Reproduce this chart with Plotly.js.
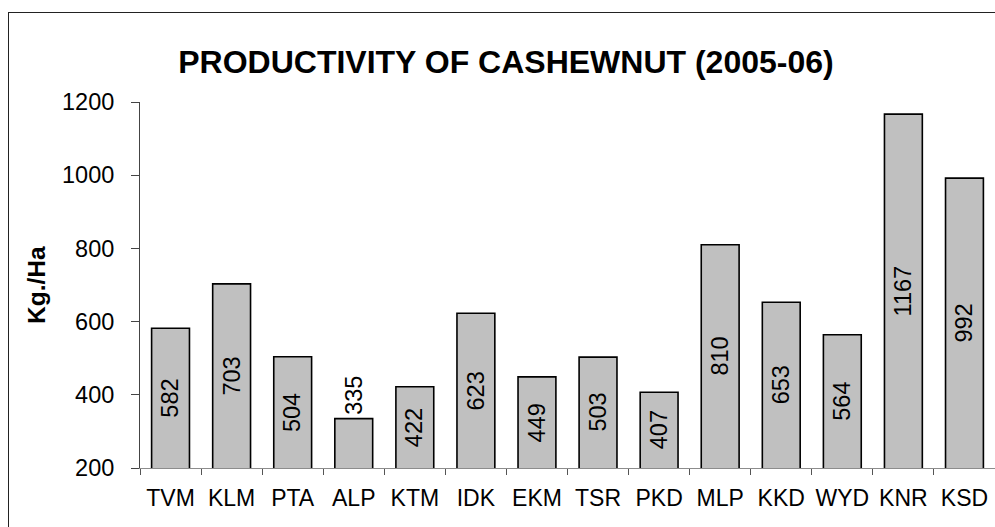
<!DOCTYPE html>
<html>
<head>
<meta charset="utf-8">
<script src="https://cdn.plot.ly/plotly-3.0.1.min.js"></script>
<style>
  html, body { margin: 0; padding: 0; background: #fff; overflow: hidden; }
  #frame { position: absolute; left: 8px; top: 12px; width: 1200px; height: 800px;
           border-left: 1px solid #222; border-top: 1px solid #222; pointer-events: none; z-index: 2; }
  #chart { position: absolute; left: 0; top: 0; width: 995px; height: 527px; }
</style>
</head>
<body>
<div id="chart"></div>
<div id="frame"></div>
<script>
// ── Data ──────────────────────────────────────────────────────────────────────
const districts = ['TVM','KLM','PTA','ALP','KTM','IDK','EKM','TSR','PKD','MLP','KKD','WYD','KNR','KSD'];
const yieldKgHa = [582, 703, 504, 335, 422, 623, 449, 503, 407, 810, 653, 564, 1167, 992];
const yRange    = [200, 1200];
const yTicks    = [200, 400, 600, 800, 1000, 1200];

const FONT = 'Liberation Sans, Arial, sans-serif';

// ── Value labels: centred in the visible bar, short bars get it above ─────────
const labels = districts.map((d, i) => {
  const v = yieldKgHa[i];
  const outside = v < 350;
  return {
    x: d, y: outside ? v : (v + yRange[0]) / 2,
    xref: 'x', yref: 'y',
    text: String(v), textangle: -90, showarrow: false,
    xanchor: 'center', yanchor: outside ? 'bottom' : 'middle',
    yshift: outside ? 2 : 0,
    font: { family: FONT, size: 23.5, color: '#000' },
  };
});

labels.push({
  x: 0, y: 0.5, xref: 'paper', yref: 'paper',
  xshift: -104, xanchor: 'center', yanchor: 'middle',
  text: '<b>Kg./Ha</b>', textangle: -90, showarrow: false,
  font: { family: FONT, size: 24.5, color: '#000' },
});

Plotly.newPlot('chart', [{
  type: 'bar',
  x: districts, y: yieldKgHa,
  width: 0.62,
  marker: { color: '#c0c0c0', line: { color: '#000', width: 1.6 } },
  hoverinfo: 'x+y',
}], {
  width: 995, height: 527,
  margin: { l: 140, r: 0, t: 102, b: 59 },
  paper_bgcolor: '#fff', plot_bgcolor: '#fff',
  font: { family: FONT, size: 23, color: '#000' },
  showlegend: false,
  title: {
    text: '<b>PRODUCTIVITY OF CASHEWNUT (2005-06)</b>',
    xref: 'container', yref: 'container',
    x: 0.5085, xanchor: 'center', y: 1 - 62 / 527, yanchor: 'middle',
    font: { family: FONT, size: 32, color: '#000' },
  },
  xaxis: {
    type: 'category',
    showline: true, linecolor: '#8c8c8c', linewidth: 1,
    ticks: 'outside', tickson: 'boundaries', ticklen: 6, tickcolor: '#555', tickwidth: 1,
    showgrid: false, zeroline: false,
    tickangle: 0,
    tickfont: { family: FONT, size: 23, color: '#000' },
    ticklabelstandoff: 9,
    range: [-0.5, districts.length - 0.5],
  },
  yaxis: {
    range: yRange, tickvals: yTicks,
    showline: true, linecolor: '#444', linewidth: 1,
    ticks: 'outside', ticklen: 8, tickcolor: '#444',
    showgrid: false, zeroline: false,
    tickfont: { family: FONT, size: 23.5, color: '#000' },
    ticklabelstandoff: 12,
  },
  annotations: labels,
}, { displayModeBar: false, staticPlot: true });
</script>
</body>
</html>
